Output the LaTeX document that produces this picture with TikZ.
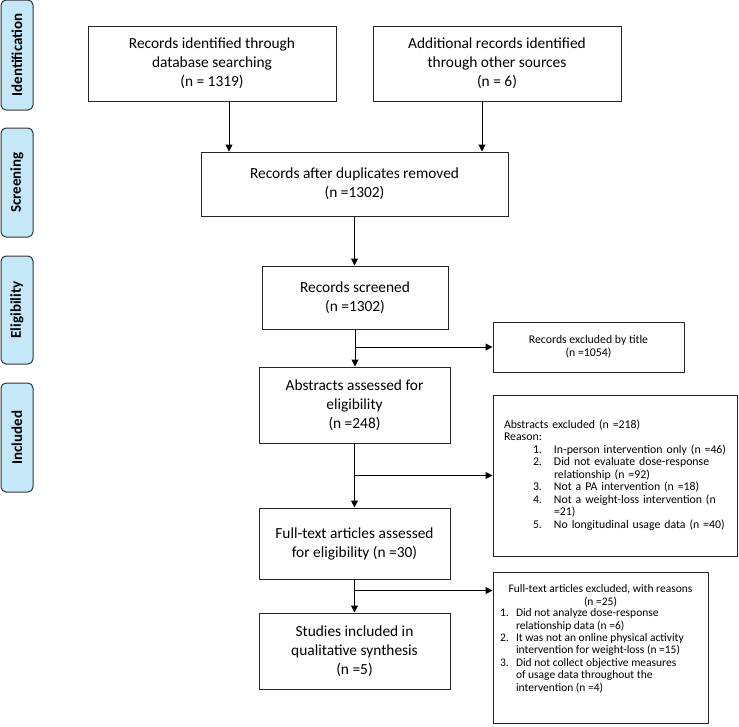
\documentclass[tikz,border=0pt]{standalone}
\usepackage{fontspec}
\setmainfont{Carlito}
\usetikzlibrary{arrows.meta}
\definecolor{stagefill}{RGB}{197,232,248}

\begin{document}
\begin{tikzpicture}[x=1pt,y=-1pt,
    stage/.style={draw=black!80,fill=stagefill,rounded corners=5pt,line width=1pt,rotate=90,
      minimum height=32pt,inner sep=0pt,font=\bfseries\fontsize{15}{18}\selectfont},
    box/.style={draw=black!85,line width=1pt,inner sep=0pt,align=center,
      font=\fontsize{15.4}{19}\selectfont},
    note/.style={draw=black!85,line width=1pt,inner sep=0pt,font=\fontsize{11.8}{12.5}\selectfont},
    arr/.style={line width=1pt,-{Triangle[length=7pt,width=7pt]}}]
    \useasboundingbox (0,0) rectangle (739,726);
    \node[stage,minimum width=110pt] (ident) at (17,55) {Identification};
    \node[stage,minimum width=109pt] (screen) at (17,182.5) {Screening};
    \node[stage,minimum width=108pt] (elig) at (17,310) {Eligibility};
    \node[stage,minimum width=109pt] (incl) at (17,437.5) {Included};
    \node[box,minimum width=248pt,minimum height=75pt] (dbrec) at (212,63.5)
      {Records identified through\\database searching\\(n = 1319)};
    \node[box,minimum width=248pt,minimum height=75pt] (otherrec) at (497,63.5)
      {Additional records identified\\through other sources\\(n = 6)};
    \node[box,minimum width=307pt,minimum height=64pt] (dupl) at (354.5,184)
      {Records after duplicates removed\\(n =1302)};
    \node[box,minimum width=186pt,minimum height=63pt] (screened) at (355,297.5)
      {Records screened\\(n =1302)};
    \node[box,minimum width=191pt,minimum height=76pt] (abstr) at (354.5,405)
      {Abstracts assessed for\\eligibility\\(n =248)};
    \node[box,minimum width=191pt,minimum height=71pt] (fulltext) at (354.5,543.5)
      {Full-text articles assessed\\for eligibility (n =30)};
    \node[box,minimum width=191pt,minimum height=76pt] (studies) at (354.5,651)
      {Studies included in\\qualitative synthesis\\(n =5)};
    \node[note,minimum width=191pt,minimum height=50pt,align=center,font=\fontsize{11.8}{13}\selectfont]
      (extitle) at (588.5,347) {Records excluded by title\\(n =1054)};
    \node[note,text width=222pt,inner xsep=11pt,minimum height=161pt,align=left] (exabstr) at (615,475.5)
      {\begin{tabular}{@{}p{29pt}@{}p{21pt}@{}l@{}}
        \multicolumn{3}{@{}l}{Abstracts excluded (n =218)}\\
        \multicolumn{3}{@{}l}{Reason:}\\
        & 1. & In-person intervention only (n =46)\\
        & 2. & Did not evaluate dose-response\\
        &    & relationship (n =92)\\
        & 3. & Not a PA intervention (n =18)\\
        & 4. & Not a weight-loss intervention (n\\
        &    & =21)\\
        & 5. & No longitudinal usage data (n =40)
      \end{tabular}};
    \node[note,inner xsep=7pt,font=\fontsize{11.5}{12.4}\selectfont] (exfull) at (600.5,647.5)
      {\parbox[c][151pt][t]{201pt}{\vspace*{13pt}%
        {\centering Full-text articles excluded, with reasons\\(n =25)\par}%
        \begin{tabular}{@{}p{16pt}@{}l@{}}
          1. & Did not analyze dose-response\\
             & relationship data (n =6)\\
          2. & It was not an online physical activity\\
             & intervention for weight-loss (n =15)\\
          3. & Did not collect objective measures\\
             & of usage data throughout the\\
             & intervention (n =4)
        \end{tabular}}};
    \draw[arr] ([xshift=17pt]dbrec.south) -- ([xshift=17pt]dbrec.south |- dupl.north);
    \draw[arr] ([xshift=-15pt]otherrec.south) -- ([xshift=-15pt]otherrec.south |- dupl.north);
    \draw[arr] (dupl.south) -- (dupl.south |- screened.north);
    \draw[arr] (screened.south) -- (screened.south |- abstr.north);
    \draw[arr] (screened.south |- extitle.west) -- (extitle.west);
    \draw[arr] (abstr.south) -- (abstr.south |- fulltext.north);
    \draw[arr] (abstr.south |- exabstr.west) -- (exabstr.west);
    \draw[arr] (fulltext.south) -- (fulltext.south |- studies.north);
    \coordinate (fullbr) at ([yshift=-11pt]fulltext.south);
    \draw[arr] (fullbr) -- (fullbr -| exfull.west);
\end{tikzpicture}
\end{document}
